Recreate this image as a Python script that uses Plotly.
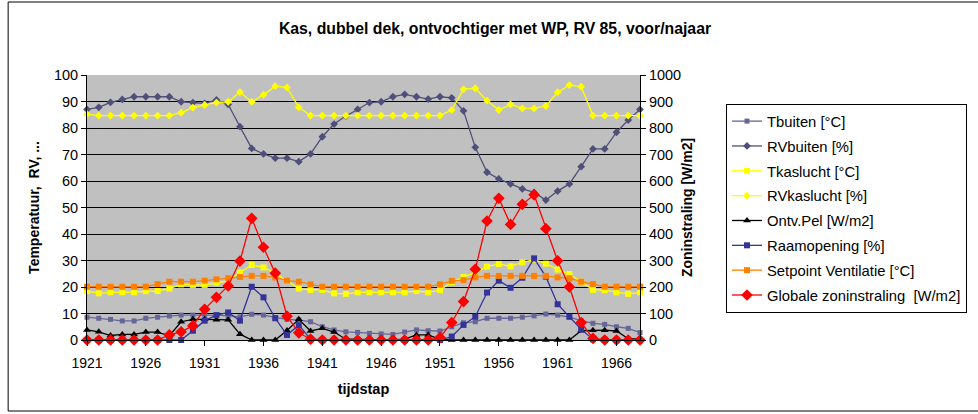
import plotly.graph_objects as go

# Time steps (category axis)
years = list(range(1921, 1969))
tick_years = list(range(1921, 1967, 5))

# Series on the left axis
t_buiten = [8.6, 8.2, 7.8, 7.2, 7.2, 8.2, 8.6, 9.1, 9.4, 9.4,
            9.4, 9.4, 9.1, 8.7, 9.7, 9.4, 8.5, 7.8, 7.5, 6.9,
            5.0, 3.8, 3.1, 2.9, 2.5, 2.3, 2.1, 3.0, 3.8, 3.5,
            3.4, 5.0, 6.5, 6.9, 8.2, 8.2, 8.2, 8.6, 9.1, 9.8,
            9.4, 8.6, 7.3, 6.3, 5.9, 5.0, 4.4, 2.8]
rv_buiten = [87.0, 87.8, 89.7, 90.8, 91.8, 91.8, 91.8, 91.8, 89.9, 89.6,
             89.3, 90.6, 88.9, 80.5, 72.3, 70.2, 68.6, 68.6, 67.3, 70.2,
             76.7, 81.5, 84.5, 87.0, 89.6, 89.9, 91.8, 92.7, 91.8, 90.9,
             91.8, 91.4, 86.5, 72.7, 63.3, 60.8, 58.9, 57.0, 55.7, 52.8,
             56.2, 58.9, 65.4, 72.1, 72.1, 78.4, 83.0, 87.0]
t_kaslucht = [18.5, 17.6, 18.0, 18.0, 18.0, 18.4, 18.5, 19.4, 21.0, 20.8,
              20.8, 21.6, 22.3, 25.5, 28.3, 27.4, 25.2, 22.3, 19.4, 18.9,
              18.9, 17.6, 17.4, 18.0, 18.0, 18.0, 18.0, 18.0, 18.5, 18.0,
              18.8, 21.8, 23.8, 25.4, 27.7, 28.7, 27.8, 29.3, 30.3, 28.8,
              26.6, 24.9, 22.0, 18.9, 18.8, 18.0, 17.4, 18.0]
rv_kaslucht = [85.2, 84.7, 84.7, 84.7, 84.7, 84.7, 84.7, 84.7, 85.8, 87.7,
               88.7, 89.6, 89.9, 93.5, 89.9, 92.5, 95.8, 95.3, 87.8, 84.7,
               84.7, 84.7, 84.7, 84.7, 84.7, 84.7, 84.7, 84.7, 84.7, 84.7,
               84.7, 86.8, 94.6, 95.0, 90.3, 86.8, 88.9, 87.4, 87.4, 88.3,
               93.5, 96.2, 95.6, 84.7, 84.7, 84.7, 84.7, 84.7]
ontv_pel = [3.8, 3.1, 1.7, 2.1, 2.1, 3.0, 3.0, 1.6, 6.9, 7.8,
            7.8, 7.6, 7.6, 2.2, 0.0, 0.0, 0.0, 3.6, 7.8, 3.4,
            4.4, 3.0, 0.3, 0.3, 0.0, 0.0, 0.0, 0.3, 1.9, 1.9,
            0.2, 0.0, 0.0, 0.0, 0.0, 0.0, 0.0, 0.0, 0.0, 0.0,
            0.0, 0.0, 3.5, 3.7, 3.7, 3.4, 0.5, 0.3]
raamopening = [0.0, 0.0, 0.0, 0.0, 0.0, 0.0, 0.0, 0.0, 0.0, 3.5,
               7.3, 9.4, 10.4, 7.3, 20.1, 16.1, 8.2, 1.9, 5.6, 0.3,
               0.0, 0.0, 0.0, 0.0, 0.0, 0.0, 0.0, 0.0, 0.0, 0.0,
               0.0, 1.3, 5.7, 8.8, 17.9, 22.4, 19.7, 23.5, 30.8, 23.9,
               13.5, 8.8, 4.0, 0.3, 0.0, 0.0, 0.0, 0.0]
setpoint_vent = [20.1, 20.1, 20.1, 20.1, 20.1, 20.1, 21.1, 22.0, 22.0, 22.0,
                 22.4, 22.9, 23.3, 23.8, 24.2, 24.2, 23.6, 22.4, 22.0, 21.0,
                 20.1, 20.1, 20.1, 20.1, 20.1, 20.1, 20.1, 20.1, 20.1, 20.1,
                 21.0, 22.3, 22.6, 23.6, 24.2, 24.2, 24.2, 24.2, 24.2, 24.2,
                 23.6, 23.3, 22.0, 21.1, 20.1, 20.1, 20.1, 20.1]

# Series on the right axis (W/m2)
zoninstraling = [0, 0, 0, 0, 0, 0, 0, 19, 31, 54,
                 116, 161, 204, 298, 459, 350, 252, 90, 27, 3,
                 0, 0, 0, 0, 0, 0, 0, 0, 0, 0,
                 9, 66, 145, 267, 449, 535, 436, 512, 548, 420,
                 299, 200, 66, 6, 0, 0, 0, 0]

FONT = "Arial, 'Liberation Sans', sans-serif"

series = [
    ("Tbuiten [°C]", t_buiten, "#666699", "square", 5, "y"),
    ("RVbuiten [%]", rv_buiten, "#4F4F7A", "diamond", 6, "y"),
    ("Tkaslucht [°C]", t_kaslucht, "#FFFF00", "square", 6, "y"),
    ("RVkaslucht [%]", rv_kaslucht, "#FFFF00", "diamond", 6, "y"),
    ("Ontv.Pel [W/m2]", ontv_pel, "#000000", "triangle-up", 7, "y"),
    ("Raamopening [%]", raamopening, "#333399", "square", 6, "y"),
    ("Setpoint Ventilatie [°C]", setpoint_vent, "#FF8000", "square", 6, "y"),
    ("Globale zoninstraling  [W/m2]", zoninstraling, "#FF0000", "diamond", 9, "y2"),
]

fig = go.Figure()
for name, vals, color, symbol, size, axis in series:
    fig.add_trace(go.Scatter(
        x=years, y=vals, name=name.replace("  ", "\u00a0 "),
        mode="lines+markers", yaxis=axis, legendgroup=name,
        line=dict(color=color, width=1.3),
        marker=dict(symbol=symbol, size=size, color=color, line=dict(width=0)),
        cliponaxis=False,
    ))

L, R, T, B = 87, 337, 75, 74
pw = 978 - L - R
ph = 414 - T - B

def px_x(p):
    return (p - L) / pw

def px_y(p):
    return (414 - B - p) / ph

fig.update_layout(
    width=978, height=414,
    margin=dict(l=L, r=R, t=T, b=B, pad=0),
    paper_bgcolor="white", plot_bgcolor="#C0C0C0",
    font=dict(family=FONT, size=14, color="black"),
    title=dict(text="<b>Kas, dubbel dek, ontvochtiger met WP, RV 85, voor/najaar</b>",
               x=495 / 978, xanchor="center", xref="container",
               y=1 - 28 / 414, yanchor="middle", yref="container",
               font=dict(size=15.8, family=FONT)),
    xaxis=dict(range=[1921, 1968], tickvals=tick_years, showgrid=False, zeroline=False,
               showline=True, linecolor="black", linewidth=1,
               ticks="outside", ticklen=5, tickcolor="black",
               ticklabelstandoff=5, tickfont=dict(size=14),
               title=dict(text="<b>tijdstap</b>", font=dict(size=14.5), standoff=14)),
    yaxis=dict(range=[0, 100], dtick=10, showgrid=True, gridcolor="black", gridwidth=1,
               zeroline=False, showline=True, linecolor="black", linewidth=1,
               ticks="outside", ticklen=5, tickcolor="black", tickfont=dict(size=14.5),
               title=dict(text="<b>Temperatuur,\u00a0 RV, ...</b>", font=dict(size=14), standoff=10)),
    yaxis2=dict(range=[0, 1000], dtick=100, overlaying="y", side="right", showgrid=False,
                zeroline=False, showline=True, linecolor="black", linewidth=1,
                ticks="outside", ticklen=5, tickcolor="black", tickfont=dict(size=14.5),
                title=dict(text="<b>Zoninstraling [W/m2]</b>", font=dict(size=14), standoff=2)),
    legend=dict(x=px_x(726), y=px_y(104), xanchor="left", yanchor="top",
                bgcolor="white", bordercolor="black", borderwidth=1,
                font=dict(size=14.8, family=FONT), tracegroupgap=2.6,
                itemwidth=30),
    showlegend=True,
    shapes=[dict(type="rect", xref="paper", yref="paper",
                 x0=px_x(8), x1=px_x(1000), y0=px_y(411), y1=px_y(2),
                 line=dict(color="black", width=1), fillcolor="rgba(0,0,0,0)",
                 layer="below")],
)

fig.write_html("out.html")
